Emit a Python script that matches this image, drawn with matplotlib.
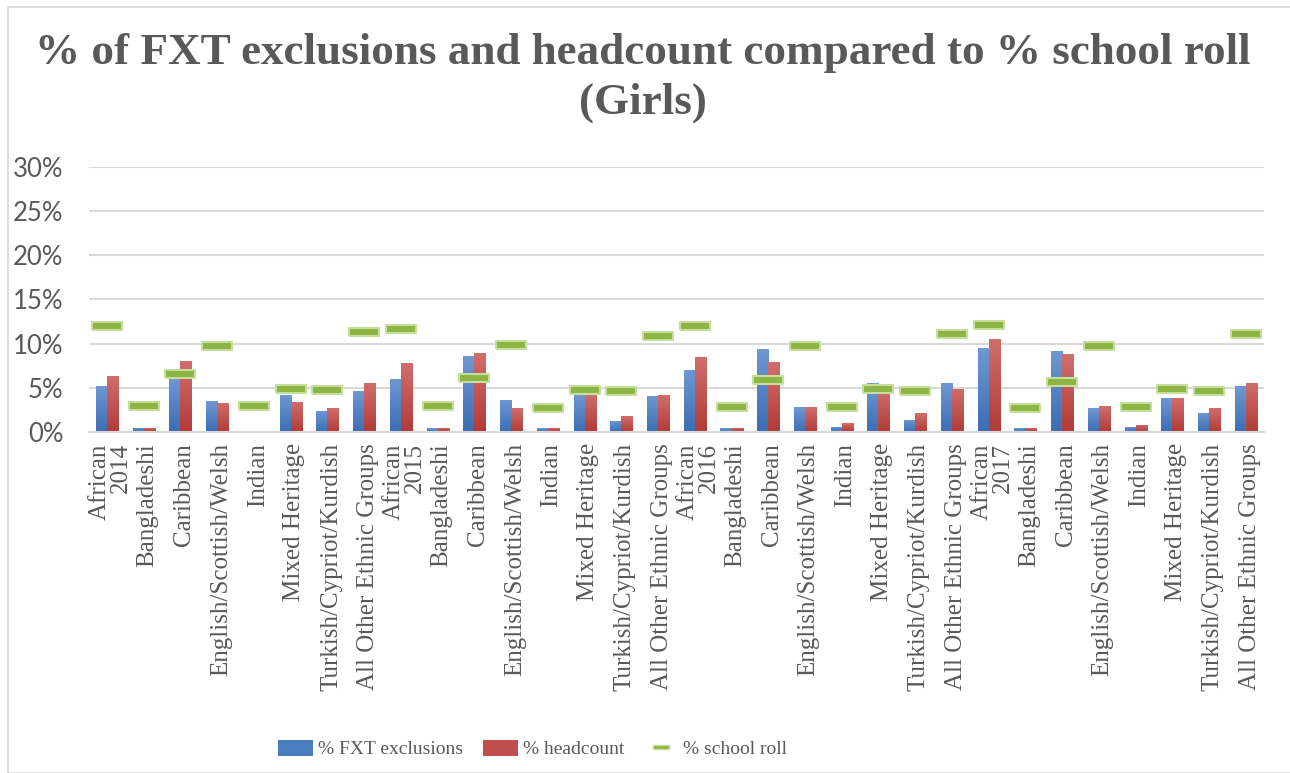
import numpy as np
import matplotlib
matplotlib.use("Agg")
import matplotlib.pyplot as plt
from matplotlib.patches import Patch, Rectangle
from matplotlib.lines import Line2D
from matplotlib.colors import LinearSegmentedColormap

years = ["2014", "2015", "2016", "2017"]
groups = ["African", "Bangladeshi", "Caribbean", "English/Scottish/Welsh",
          "Indian", "Mixed Heritage", "Turkish/Cypriot/Kurdish",
          "All Other Ethnic Groups"]

# percentages, one value per group per year (2014..2017)
fxt_exclusions = [5.2, 0.5, 6.2, 3.5, 0.05, 4.2, 2.4, 4.6,
                  6.0, 0.4, 8.6, 3.6, 0.4, 4.3, 1.3, 4.1,
                  7.0, 0.4, 9.4, 2.8, 0.6, 5.5, 1.4, 5.5,
                  9.5, 0.4, 9.2, 2.7, 0.6, 3.9, 2.2, 5.2]
headcount = [6.3, 0.5, 8.0, 3.3, 0.05, 3.4, 2.7, 5.5,
             7.8, 0.5, 8.9, 2.7, 0.5, 4.2, 1.8, 4.2,
             8.5, 0.5, 7.9, 2.8, 1.0, 4.7, 2.1, 4.9,
             10.5, 0.5, 8.8, 2.9, 0.8, 3.8, 2.7, 5.6]
school_roll = [12.0, 3.0, 6.6, 9.7, 2.9, 4.9, 4.8, 11.3,
               11.7, 2.9, 6.1, 9.8, 2.7, 4.8, 4.6, 10.9,
               12.0, 2.8, 5.9, 9.7, 2.8, 4.9, 4.6, 11.1,
               12.1, 2.7, 5.7, 9.7, 2.8, 4.9, 4.6, 11.1]

labels = []
for y in years:
    for i, g in enumerate(groups):
        labels.append(g + "\n" + y if i == 0 else g)

TEXT = "#595959"
GRID = "#d9d9d9"
SERIF = ["Liberation Serif", "DejaVu Serif"]

fig = plt.figure(figsize=(12.9, 7.73), dpi=100)
fig.patches.append(Rectangle((8 / 1290, 0), 1.1, (773 - 7) / 773,
                             transform=fig.transFigure, fill=False,
                             edgecolor=GRID, linewidth=1.2))
ax = fig.add_axes([0.0687, 0.4411, 0.9113, 0.3429])

x = np.arange(len(labels))
w = 0.3
blue_cm = LinearSegmentedColormap.from_list("b", ["#3c6db3", "#6f98d2"])
red_cm = LinearSegmentedColormap.from_list("r", ["#b13b38", "#d06e6c"])
grad = np.linspace(0, 1, 64).reshape(-1, 1)


def gradient_bars(xs, vals, cmap):
    bars = ax.bar(xs, vals, w, color="none", linewidth=0, zorder=2)
    for b in bars:
        x0, y0 = b.get_x(), b.get_y()
        im = ax.imshow(grad, cmap=cmap, aspect="auto", origin="lower",
                       extent=(x0, x0 + b.get_width(), y0, y0 + b.get_height()),
                       zorder=2)
        im.set_clip_path(b)
    return bars


gradient_bars(x - w / 2, fxt_exclusions, blue_cm)
gradient_bars(x + w / 2, headcount, red_cm)

# school roll shown as wide flat markers
dash = [(-1.7, -0.5), (1.7, -0.5), (1.7, 0.5), (-1.7, 0.5), (-1.7, -0.5)]
ax.plot(x, school_roll, linestyle="none", marker=dash, markersize=22,
        markerfacecolor="#8db543", markeredgecolor="#c5de9c",
        markeredgewidth=1.5, zorder=4)

ax.set_xlim(-0.5, len(labels) - 0.5)
ax.set_ylim(0, 30)
ax.set_yticks(range(0, 31, 5))
ax.set_yticklabels([f"{v}%" for v in range(0, 31, 5)], family="Lato",
                   fontsize=18.5, color=TEXT)
ax.set_xticks(x + 0.1)
ax.set_xticklabels(labels, rotation=90, family=SERIF, fontsize=18,
                   color=TEXT, linespacing=0.95, va="top", ha="center",
                   multialignment="right")
ax.tick_params(length=0)
ax.tick_params(axis="y", pad=18)
ax.tick_params(axis="x", pad=8)
ax.grid(axis="y", color=GRID, linewidth=1.5, zorder=0)
ax.set_axisbelow(True)
for s in ["top", "right", "left"]:
    ax.spines[s].set_visible(False)
ax.spines["bottom"].set_color(GRID)
ax.spines["bottom"].set_linewidth(1.5)

fig.text(0.4985, 0.957,
         "% of FXT exclusions and headcount compared to % school roll\n(Girls)",
         family=SERIF, fontweight="bold", fontsize=32.5, color=TEXT,
         ha="center", va="top", linespacing=1.3)

handles = [Patch(facecolor="#4a7dc0", edgecolor="none"),
           Patch(facecolor="#c0504d", edgecolor="none"),
           Line2D([], [], linestyle="none", marker=dash, markersize=11,
                  markerfacecolor="#8db543", markeredgecolor="#c5de9c")]
fig.legend(handles, ["% FXT exclusions", "% headcount", "% school roll"],
           loc="center", bbox_to_anchor=(0.413, 0.031), ncol=3, frameon=False,
           prop={"family": SERIF, "size": 14}, labelcolor=TEXT,
           handlelength=1.8, handleheight=0.9, columnspacing=1.0,
           handletextpad=0.25)

fig.savefig("out.png", dpi=100)
